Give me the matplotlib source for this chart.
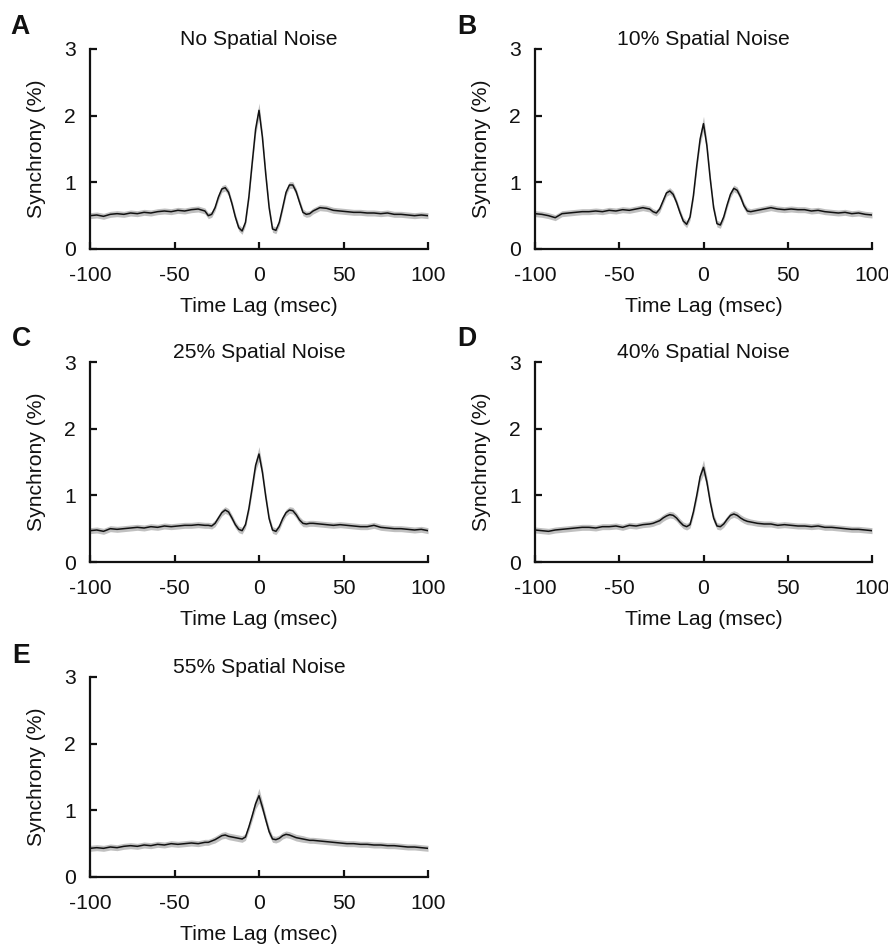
import matplotlib
matplotlib.use("Agg")
import matplotlib.pyplot as plt
import numpy as np

plt.rcParams['font.family'] = ['Liberation Sans', 'DejaVu Sans']

lags = [-100, -96, -92, -88, -84, -80, -76, -72, -68, -64, -60, -56, -52, -48, -44, -40, -36, -32,
        -30, -28, -26, -24, -22, -20, -18, -16, -14, -12, -10, -8, -6, -4, -2, 0,
        2, 4, 6, 8, 10, 12, 14, 16, 18, 20, 22, 24, 26, 28, 30,
        32, 36, 40, 44, 48, 52, 56, 60, 64, 68, 72, 76, 80, 84, 88, 92, 96, 100]

sync_a = [0.50, 0.51, 0.49, 0.52, 0.53, 0.52, 0.54, 0.53, 0.55, 0.54, 0.56, 0.57, 0.56, 0.58, 0.57, 0.59, 0.60, 0.57,
          0.50, 0.52, 0.62, 0.78, 0.90, 0.92, 0.85, 0.68, 0.48, 0.32, 0.27, 0.40, 0.78, 1.30, 1.80, 2.08,
          1.68, 1.12, 0.62, 0.30, 0.28, 0.40, 0.62, 0.85, 0.96, 0.96, 0.86, 0.70, 0.55, 0.52, 0.53,
          0.57, 0.62, 0.61, 0.58, 0.57, 0.56, 0.55, 0.55, 0.54, 0.54, 0.53, 0.54, 0.52, 0.52, 0.51, 0.50, 0.51, 0.50]

sync_b = [0.53, 0.52, 0.50, 0.47, 0.53, 0.54, 0.55, 0.56, 0.56, 0.57, 0.56, 0.58, 0.57, 0.59, 0.58, 0.60, 0.62, 0.60,
          0.56, 0.54, 0.60, 0.72, 0.84, 0.87, 0.82, 0.70, 0.55, 0.42, 0.37, 0.48, 0.80, 1.25, 1.65, 1.88,
          1.55, 1.05, 0.62, 0.38, 0.36, 0.48, 0.66, 0.82, 0.91, 0.88, 0.78, 0.65, 0.57, 0.56, 0.57,
          0.58, 0.60, 0.62, 0.60, 0.59, 0.60, 0.59, 0.59, 0.57, 0.58, 0.56, 0.55, 0.54, 0.55, 0.53, 0.54, 0.52, 0.51]

sync_c = [0.47, 0.48, 0.46, 0.50, 0.49, 0.50, 0.51, 0.52, 0.51, 0.53, 0.52, 0.54, 0.53, 0.54, 0.55, 0.55, 0.56, 0.55,
          0.55, 0.54, 0.58, 0.66, 0.74, 0.78, 0.75, 0.66, 0.56, 0.49, 0.47, 0.56, 0.80, 1.12, 1.45, 1.62,
          1.35, 0.98, 0.65, 0.48, 0.46, 0.53, 0.65, 0.74, 0.78, 0.77, 0.71, 0.63, 0.58, 0.57, 0.58,
          0.58, 0.57, 0.56, 0.55, 0.56, 0.55, 0.54, 0.53, 0.53, 0.55, 0.52, 0.51, 0.50, 0.50, 0.49, 0.48, 0.49, 0.47]

sync_d = [0.48, 0.47, 0.46, 0.48, 0.49, 0.50, 0.51, 0.52, 0.52, 0.51, 0.53, 0.53, 0.54, 0.52, 0.55, 0.54, 0.56, 0.57,
          0.58, 0.60, 0.62, 0.66, 0.69, 0.71, 0.70, 0.66, 0.60, 0.55, 0.53, 0.56, 0.75, 1.00, 1.28, 1.42,
          1.20, 0.90, 0.66, 0.54, 0.53, 0.57, 0.64, 0.70, 0.72, 0.70, 0.66, 0.63, 0.61, 0.60, 0.59,
          0.58, 0.57, 0.57, 0.55, 0.56, 0.55, 0.54, 0.54, 0.53, 0.54, 0.52, 0.52, 0.51, 0.50, 0.49, 0.49, 0.48, 0.47]

sync_e = [0.43, 0.44, 0.43, 0.45, 0.44, 0.46, 0.47, 0.46, 0.48, 0.47, 0.49, 0.48, 0.50, 0.49, 0.50, 0.51, 0.50, 0.52,
          0.52, 0.54, 0.56, 0.59, 0.62, 0.63, 0.61, 0.60, 0.59, 0.58, 0.57, 0.60, 0.75, 0.92, 1.10, 1.22,
          1.05, 0.86, 0.68, 0.57, 0.56, 0.58, 0.62, 0.64, 0.63, 0.61, 0.59, 0.58, 0.57, 0.56, 0.55,
          0.55, 0.54, 0.53, 0.52, 0.51, 0.50, 0.50, 0.49, 0.49, 0.48, 0.48, 0.47, 0.47, 0.46, 0.45, 0.45, 0.44, 0.43]

sem = [0.045] * 18 + \
      [0.045, 0.045, 0.05, 0.05, 0.05, 0.05, 0.05, 0.05, 0.05, 0.05, 0.05, 0.05, 0.06, 0.07, 0.08, 0.11,
       0.08, 0.07, 0.06, 0.05, 0.05, 0.05, 0.05, 0.05, 0.05, 0.05, 0.05, 0.05, 0.05, 0.045, 0.045] + \
      [0.045] * 18

letters = ['A', 'B', 'C', 'D', 'E']
titles = ['No Spatial Noise', '10% Spatial Noise', '25% Spatial Noise',
          '40% Spatial Noise', '55% Spatial Noise']
series = [sync_a, sync_b, sync_c, sync_d, sync_e]
xticks = [-100, -50, 0, 50, 100]
yticks = [0, 1, 2, 3]

W, H = 888, 944
fig = plt.figure(figsize=(W / 100, H / 100), dpi=100)

# axes boxes in pixels: (left, top, right, bottom)
boxes = [(90, 49, 428, 249), (535, 49, 872, 249),
         (90, 362, 428, 562), (535, 362, 872, 562),
         (90, 677, 428, 877)]
letter_pos = [(10, 27), (457, 27), (12, 339), (457, 339), (12, 656)]

fs = 15.2
for i in range(5):
    l, t, r, b = boxes[i]
    ax = fig.add_axes([l / W, 1 - b / H, (r - l) / W, (b - t) / H])
    y = np.array(series[i])
    s = np.array(sem)
    ax.fill_between(lags, y - s, y + s, color='#c0c0c0', lw=0, zorder=1)
    ax.plot(lags, y, color='#111111', lw=1.1, zorder=2)
    ax.set_xlim(-100, 100)
    ax.set_ylim(0, 3)
    ax.set_xticks(xticks)
    ax.set_yticks(yticks)
    ax.set_xticklabels([str(v) if v >= 0 else '-' + str(-v) for v in xticks])
    for side in ['top', 'right']:
        ax.spines[side].set_visible(False)
    for side in ['left', 'bottom']:
        ax.spines[side].set_linewidth(1.6)
        ax.spines[side].set_color('#111111')
    ax.tick_params(axis='both', direction='in', length=5, width=1.6, labelsize=fs,
                   colors='#111111')
    ax.tick_params(axis='x', pad=12)
    ax.tick_params(axis='y', pad=10)
    ax.set_xlabel('Time Lag (msec)', fontsize=fs, labelpad=9, color='#111111')
    ax.set_ylabel('Synchrony (%)', fontsize=fs, labelpad=13, color='#111111')
    ax.set_title(titles[i], fontsize=fs, pad=0.5, color='#111111')
    ax.patch.set_alpha(0)
    lx, ly = letter_pos[i]
    fig.text(lx / W, 1 - ly / H, letters[i], fontsize=fs + 4, fontweight='bold',
             ha='left', va='center', color='#111111')

fig.savefig('out.png', dpi=100)
